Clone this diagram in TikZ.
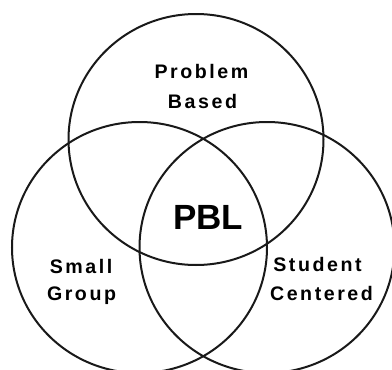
\documentclass[tikz,border=0pt]{standalone}
\usepackage{fontspec}
\setmainfont{Liberation Sans}
\newfontfamily\spacedfont[LetterSpace=13]{Liberation Sans}
\begin{document}
\begin{tikzpicture}[x=1pt,y=-1pt,
  ring/.style={line width=2pt,draw=black!90},
  lbl/.style={font=\spacedfont\bfseries\fontsize{19.6}{21}\selectfont,inner sep=0pt,anchor=base},
  big/.style={font=\bfseries\fontsize{35}{36}\selectfont,inner sep=0pt}]
\useasboundingbox (0,0) rectangle (392,370);
\clip (0,0) rectangle (392,370);
\draw[ring] (196,139.5) ellipse [x radius=127.5,y radius=125.5];
\draw[ring] (139.5,247.5) ellipse [x radius=127.5,y radius=125.5];
\draw[ring] (267,247.5) ellipse [x radius=127.5,y radius=125.5];
\node[lbl] (pb1) at (201.5,78) {Problem};
\node[lbl] (pb2) at (202.5,108.5) {Based};
\node[big] (pbl) at (208.3,217.5) {PBL};
\node[lbl] (sg1) at (81,273) {Small};
\node[lbl] (sg2) at (81.5,300.5) {Group};
\node[lbl] (sc1) at (317.5,271.5) {Student};
\node[lbl] (sc2) at (321.5,300) {Centered};
\end{tikzpicture}
\end{document}
